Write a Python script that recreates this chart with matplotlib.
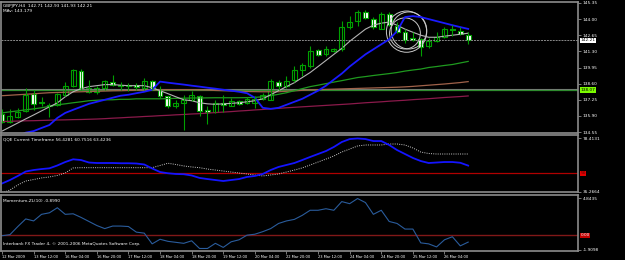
import numpy as np
import matplotlib
matplotlib.use("Agg")
import matplotlib.pyplot as plt
from matplotlib.patches import Ellipse

# GBPJPY H4 candles (open, high, low, close)
opens = [136.07, 135.42, 135.84, 136.32, 137.73, 137.05, 136.83, 136.83, 137.67, 138.38,
         139.64, 138.24, 137.87, 138.24, 138.74, 138.46, 138.43, 138.46, 138.24, 138.80,
         138.15, 137.53, 136.69, 136.97, 137.25, 137.59, 136.41, 136.26, 136.97, 136.74,
         137.16, 136.97, 137.02, 137.31, 137.25, 138.74, 138.38, 138.88, 139.78, 140.06,
         141.39, 141.05, 141.33, 141.47, 143.30, 143.86, 144.62, 144.00, 143.21, 144.42,
         143.44, 142.93, 142.40, 142.37, 141.75, 142.17, 142.51, 143.16, 143.02, 142.71]
highs = [136.49, 136.46, 136.55, 138.23, 138.04, 137.47, 137.02, 137.81, 138.71, 139.84,
         139.84, 138.94, 138.38, 138.94, 139.30, 138.74, 138.66, 138.66, 139.08, 138.88,
         138.38, 137.59, 137.25, 137.67, 137.95, 137.67, 136.69, 137.25, 137.67, 137.39,
         137.25, 137.47, 137.59, 137.81, 138.99, 138.88, 139.22, 140.06, 140.34, 141.75,
         141.47, 141.75, 141.61, 143.86, 144.28, 144.79, 144.76, 144.14, 144.56, 144.56,
         143.72, 143.16, 142.88, 142.45, 142.45, 142.88, 143.30, 143.49, 143.30, 142.93]
lows = [135.34, 135.28, 135.70, 136.26, 136.41, 136.69, 135.84, 136.69, 137.59, 138.32,
        138.09, 137.81, 137.76, 138.09, 138.38, 138.09, 137.95, 138.09, 138.09, 138.09,
        137.39, 136.55, 136.55, 134.72, 137.11, 135.90, 135.23, 136.18, 136.26, 136.69,
        136.83, 136.91, 136.55, 137.19, 137.19, 138.09, 138.24, 138.71, 139.22, 139.92,
        140.91, 140.91, 141.24, 141.33, 143.16, 143.44, 144.00, 143.21, 143.16, 143.44,
        142.82, 142.03, 142.17, 140.91, 141.61, 142.09, 142.45, 142.59, 142.65, 141.93]
closes = [135.42, 135.90, 136.26, 137.67, 136.91, 136.94, 136.77, 137.73, 138.38, 139.73,
          138.24, 137.87, 138.24, 138.80, 138.46, 138.43, 138.46, 138.29, 138.80, 138.15,
          137.53, 136.69, 136.97, 137.25, 137.67, 136.35, 136.26, 136.97, 136.80, 137.16,
          136.91, 137.31, 137.31, 137.67, 138.80, 138.43, 138.80, 139.78, 140.12, 141.33,
          140.96, 141.47, 141.52, 143.30, 143.78, 144.62, 144.06, 143.30, 144.42, 143.49,
          142.93, 142.26, 142.26, 141.67, 142.17, 142.51, 143.16, 143.07, 142.73, 142.21]

# moving averages on the price panel
ma_blue = [133.60, 133.90, 134.20, 134.50, 134.63, 134.89, 135.14, 135.73, 136.15, 136.41,
           136.66, 136.91, 137.08, 137.25, 137.42, 137.59, 137.67, 137.80, 137.92, 138.09,
           138.77, 138.68, 138.60, 138.52, 138.43, 138.35, 138.26, 138.18, 138.09, 138.01,
           137.92, 137.80, 137.42, 136.58, 136.49, 136.58, 136.83, 137.08, 137.33, 137.67,
           138.01, 138.43, 138.94, 139.44, 140.03, 140.54, 141.05, 141.47, 141.89, 142.31,
           142.99, 144.17, 144.25, 144.17, 144.00, 143.83, 143.66, 143.49, 143.33, 143.18]
ma_gray = [134.63, 134.97, 135.31, 135.65, 135.98, 136.32, 136.66, 136.99, 137.50, 137.92,
           138.18, 138.35, 138.43, 138.52, 138.52, 138.47, 138.43, 138.43, 138.43, 138.26,
           138.01, 137.76, 137.50, 137.25, 137.17, 137.00, 136.91, 136.87, 136.91, 136.95,
           137.00, 137.08, 137.17, 137.33, 137.67, 138.01, 138.35, 138.68, 139.11, 139.53,
           140.03, 140.54, 141.05, 141.55, 142.14, 142.65, 143.16, 143.49, 143.66, 143.75,
           143.49, 143.16, 142.90, 142.65, 142.48, 142.48, 142.57, 142.65, 142.73, 142.82]
ma_green = [136.15, 136.24, 136.32, 136.41, 136.49, 136.58, 136.70, 136.83, 136.91, 137.00,
            137.08, 137.17, 137.21, 137.25, 137.25, 137.29, 137.29, 137.33, 137.33, 137.33,
            137.33, 137.35, 137.37, 137.38, 137.40, 137.40, 137.41, 137.42, 137.42, 137.42,
            137.42, 137.43, 137.45, 137.50, 137.59, 137.71, 137.84, 138.01, 138.18, 138.35,
            138.47, 138.60, 138.73, 138.85, 138.98, 139.11, 139.19, 139.28, 139.36, 139.44,
            139.53, 139.65, 139.74, 139.82, 139.95, 140.03, 140.12, 140.20, 140.33, 140.46]
ma_brown = [137.59, 137.63, 137.67, 137.71, 137.75, 137.80, 137.84, 137.86, 137.88, 137.90,
            137.92, 137.94, 137.96, 137.98, 138.00, 138.01, 138.03, 138.05, 138.06, 138.07,
            138.08, 138.09, 138.09, 138.09, 138.09, 138.08, 138.06, 138.03, 138.01, 137.99,
            137.96, 137.94, 137.93, 137.92, 137.92, 137.92, 137.96, 138.00, 138.04, 138.07,
            138.09, 138.12, 138.14, 138.16, 138.18, 138.20, 138.22, 138.24, 138.26, 138.28,
            138.30, 138.33, 138.37, 138.42, 138.47, 138.52, 138.57, 138.63, 138.69, 138.77]
ma_maroon = [135.43, 135.45, 135.47, 135.49, 135.50, 135.52, 135.54, 135.56, 135.57, 135.59,
             135.60, 135.62, 135.64, 135.67, 135.71, 135.74, 135.78, 135.81, 135.85, 135.88,
             135.92, 135.95, 135.99, 136.02, 136.06, 136.09, 136.13, 136.18, 136.22, 136.26,
             136.31, 136.35, 136.40, 136.44, 136.49, 136.53, 136.58, 136.62, 136.66, 136.70,
             136.74, 136.78, 136.82, 136.86, 136.90, 136.95, 137.00, 137.04, 137.08, 137.13,
             137.17, 137.21, 137.26, 137.30, 137.34, 137.39, 137.44, 137.48, 137.52, 137.57]

level_price = 138.07
last_price = 142.21
price_ticks = [145.35, 144.00, 142.65, 141.30, 139.95, 138.60, 137.25, 135.90, 134.55]

# QQE panel
qqe_rsi = [41.9, 44.7, 48.0, 51.6, 52.8, 53.6, 54.2, 56.5, 59.3, 61.5,
           60.9, 58.9, 58.5, 58.5, 58.5, 58.3, 58.3, 58.1, 57.3, 54.1,
           51.2, 50.2, 49.6, 49.4, 48.4, 46.4, 45.5, 44.7, 43.9, 44.7,
           45.5, 47.2, 48.0, 49.6, 52.8, 55.3, 56.9, 58.5, 60.9, 63.4,
           65.8, 68.2, 71.5, 75.5, 77.9, 78.4, 77.9, 76.3, 76.3, 73.1,
           69.0, 65.8, 62.6, 60.1, 58.5, 58.9, 59.3, 59.3, 58.7, 56.4]
qqe_trail = [34.2, 36.6, 40.7, 43.9, 45.1, 46.4, 47.2, 48.4, 50.4, 54.5,
             54.7, 54.7, 54.7, 54.7, 54.7, 54.7, 54.7, 54.7, 54.7, 54.7,
             56.5, 58.3, 57.3, 56.1, 55.3, 54.7, 53.6, 52.8, 52.0, 51.2,
             50.4, 49.6, 48.8, 48.0, 48.8, 49.6, 51.2, 52.8, 54.5, 56.9,
             59.3, 61.7, 64.2, 67.4, 69.8, 72.3, 73.1, 73.1, 73.1, 73.9,
             73.9, 73.1, 70.7, 67.4, 66.2, 65.8, 65.8, 65.8, 65.8, 65.8]
qqe_level = 50

# Momentum-ZL(10)
momentum = [-0.07, 0.07, 1.13, 2.12, 1.86, 2.72, 2.92, 3.58, 2.72, 2.79,
            2.32, 1.79, 1.26, 0.86, 1.19, 1.19, 1.13, 0.40, 0.27, -1.13,
            -0.53, -0.80, -0.93, -1.06, -0.73, -1.73, -1.73, -1.06, -1.59, -0.86,
            -0.60, 0.00, 0.13, 0.46, 0.86, 1.53, 1.86, 2.06, 2.59, 3.25,
            3.25, 3.45, 3.25, 4.38, 4.11, 4.78, 4.25, 2.72, 3.25, 1.79,
            1.53, 0.80, 0.80, -1.00, -1.13, -1.53, -0.60, -0.20, -1.39, -0.899]

time_labels = ["12 Mar 2009", "13 Mar 12:00", "16 Mar 04:00", "16 Mar 20:00",
               "17 Mar 12:00", "18 Mar 04:00", "18 Mar 20:00", "19 Mar 12:00",
               "20 Mar 04:00", "22 Mar 20:00", "23 Mar 12:00", "24 Mar 04:00",
               "24 Mar 20:00", "25 Mar 12:00", "26 Mar 04:00"]

BG = "black"
GRID = "#8c8c8c"
CANDLE = "#00a000"
FS = 3.1

x = np.arange(len(closes))
xlim = (-0.13, 72.9)

fig = plt.figure(figsize=(6.25, 2.6), dpi=100, facecolor=BG)
ax = fig.add_axes([1 / 625, 1 - 133 / 260, 577 / 625, 131 / 260])
ax_q = fig.add_axes([1 / 625, 1 - 192 / 260, 577 / 625, 57 / 260])
ax_m = fig.add_axes([1 / 625, 1 - 251 / 260, 577 / 625, 56 / 260])

for a in (ax, ax_q, ax_m):
    a.set_facecolor(BG)
    a.set_xlim(*xlim)
    for s in a.spines.values():
        s.set_color(GRID)
        s.set_linewidth(1.2)
    a.yaxis.tick_right()
    a.tick_params(axis="y", colors=GRID, labelcolor="white", labelsize=FS,
                  length=2, width=0.6, pad=1.5)
    a.tick_params(axis="x", bottom=False, labelbottom=False)

# ---- price panel ----
ax.set_ylim(134.47, 145.43)
ax.axhline(level_price + 0.1, color="#7a7a7a", lw=0.8)
ax.axhline(level_price, color="#2e8b2e", lw=0.9)
ax.axhline(last_price, color="#8a8a8a", lw=0.7, ls=(0, (2, 1)))

ax.plot(x, ma_maroon, color="#8b1a4b", lw=0.9)
ax.plot(x, ma_brown, color="#a0624a", lw=0.9)
ax.plot(x, ma_green, color="#1f9a1f", lw=0.9)
ax.plot(x, ma_gray, color="#b4b4b4", lw=0.8)
ax.plot(x, ma_blue, color="#1a1aff", lw=1.3)

o = np.array(opens)
c = np.array(closes)
ax.vlines(x, lows, highs, color=CANDLE, lw=0.8)
bull = c >= o
ax.bar(x[bull], np.maximum(c - o, 0.03)[bull], bottom=o[bull], width=0.62,
       color="black", edgecolor=CANDLE, lw=0.8)
ax.bar(x[~bull], np.maximum(o - c, 0.03)[~bull], bottom=c[~bull], width=0.62,
       color="white", edgecolor=CANDLE, lw=0.8)

# hand drawn circles around the top
for cx, cy, w, h in [(51.2, 142.95, 5.1, 3.45), (51.5, 143.05, 4.5, 3.1), (51.0, 142.8, 3.9, 2.6)]:
    ax.add_patch(Ellipse((cx, cy), w, h, fill=False, ec="#c8c8c8", lw=0.7))

ax.set_yticks(price_ticks)
ax.set_yticklabels([f"{v:.2f}" for v in price_ticks])
ax.text(1.004, last_price, f"{last_price:.2f}", transform=ax.get_yaxis_transform(),
        fontsize=FS, color="black", va="center", ha="left",
        bbox=dict(boxstyle="square,pad=0.15", fc="white", ec="none"))
ax.text(1.004, level_price, f"{level_price:.2f}", transform=ax.get_yaxis_transform(),
        fontsize=FS, color="black", va="center", ha="left",
        bbox=dict(boxstyle="square,pad=0.15", fc="#7cfc00", ec="none"))

ax.text(0.004, 0.985, "GBPJPY,H4  142.71 142.93 141.93 142.21", transform=ax.transAxes,
        color="white", fontsize=FS, va="top")
ax.text(0.004, 0.945, "MAv: 143.179", transform=ax.transAxes,
        color="white", fontsize=FS, va="top")

# ---- QQE panel ----
ax_q.set_ylim(35.0, 81.2)
ax_q.axhline(qqe_level, color="#b00000", lw=0.9)
ax_q.plot(x, qqe_trail, color="#c8c8c8", lw=0.7, ls=(0, (1, 1.3)))
ax_q.plot(x, qqe_rsi, color="#1414ff", lw=1.3)
ax_q.set_yticks([78.4131, 35.2664])
ax_q.set_yticklabels(["78.4131", "35.2664"])
ax_q.text(1.004, qqe_level, "50", transform=ax_q.get_yaxis_transform(),
          fontsize=FS, color="#600000", va="center", ha="left",
          bbox=dict(boxstyle="square,pad=0.15", fc="#e00000", ec="none"))
ax_q.text(0.004, 0.95, "QQE Current Timeframe 56.4281 60.7516 63.4236",
          transform=ax_q.transAxes, color="white", fontsize=FS, va="top")

# ---- Momentum panel ----
ax_m.set_ylim(-2.06, 5.24)
ax_m.axhline(0, color="#801818", lw=1.0)
ax_m.plot(x, momentum, color="#2a5c9c", lw=0.8)
ax_m.set_yticks([4.8435, -1.9098])
ax_m.set_yticklabels(["4.8435", "-1.9098"])
ax_m.text(1.004, 0, "0.00", transform=ax_m.get_yaxis_transform(),
          fontsize=FS, color="white", va="center", ha="left",
          bbox=dict(boxstyle="square,pad=0.15", fc="#c00000", ec="none"))
ax_m.text(0.004, 0.93, "Momentum-ZL(10) -0.8990", transform=ax_m.transAxes,
          color="white", fontsize=FS, va="top")
ax_m.text(0.004, 0.12, "Interbank FX Trader 4, \u00a9 2001-2006 MetaQuotes Software Corp.",
          transform=ax_m.transAxes, color="white", fontsize=FS, va="center")

ax_m.set_xticks(np.arange(0, 4 * len(time_labels), 4))
ax_m.set_xticklabels(time_labels, ha="left")
ax_m.tick_params(axis="x", bottom=True, labelbottom=True, colors=GRID,
                 labelcolor="white", labelsize=2.6, length=2, width=0.6, pad=0.8)

fig.savefig("out.png", dpi=100, facecolor=BG)
